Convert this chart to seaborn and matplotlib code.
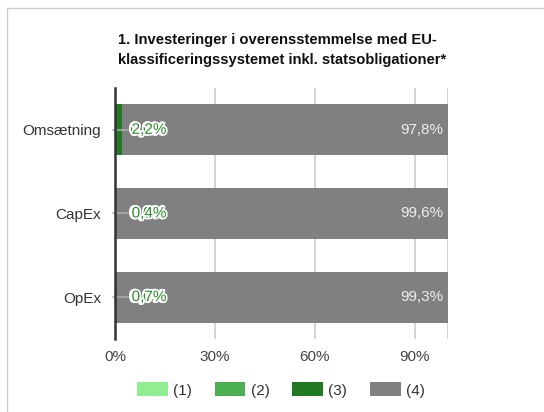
import numpy as np
import pandas as pd
import seaborn as sns
import matplotlib.pyplot as plt
from matplotlib.lines import Line2D
from matplotlib.patches import Patch
import matplotlib.patheffects as pe

# data
categories = ['Omsætning', 'CapEx', 'OpEx']
series_names = ['(1)', '(2)', '(3)', '(4)']
s1 = [0.0, 0.0, 0.0]
s2 = [0.0, 0.0, 0.0]
s3 = [2.2, 0.4, 0.7]
s4 = [97.8, 99.6, 99.3]
colors = ['#90ee90', '#4caf50', '#217a21', '#808080']
x_ticks = [0, 30, 60, 90]

title = '1. Investeringer i overensstemmelse med EU-\nklassificeringssystemet inkl. statsobligationer*'

sns.set_style('white')
plt.rcParams['font.family'] = ['Liberation Sans', 'DejaVu Sans']

df = pd.DataFrame({'cat': categories, '(1)': s1, '(2)': s2, '(3)': s3, '(4)': s4})
cum = df[series_names].cumsum(axis=1)

fig = plt.figure(figsize=(5.44, 4.12), dpi=100)
ax = fig.add_axes([115 / 544, 1 - 339 / 412, (448 - 115) / 544, 251 / 412])

# stacked bars: draw largest cumulative first
for name, col in reversed(list(zip(series_names, colors))):
    sns.barplot(x=cum[name], y=df['cat'], color=col, orient='h', width=0.61,
                saturation=1, ax=ax, zorder=2, linewidth=0)

ax.set_xlim(0, 100)
ax.set_ylim(2.5, -0.5)
ax.set_xticks(x_ticks)
ax.set_xticklabels([f'{t}%' for t in x_ticks], fontsize=11, color='#444444')
ax.tick_params(axis='y', labelsize=11, labelcolor='#333333', length=0, pad=10)
ax.tick_params(axis='x', length=0, pad=8)
ax.set_xlabel('')
ax.set_ylabel('')
for t in x_ticks[1:] + [100]:
    ax.axvline(t, color='#cccccc', lw=1.2, zorder=1)
for s in ['top', 'right', 'bottom']:
    ax.spines[s].set_visible(False)
ax.spines['left'].set_color('#333333')
ax.spines['left'].set_linewidth(1.8)
ax.spines['left'].set_zorder(5)

# labels
fmt = lambda v: f'{v:.1f}%'.replace('.', ',')
for i, cat in enumerate(categories):
    ax.text(cum['(4)'][i] - 1.5, i, fmt(s4[i]), ha='right', va='center',
            fontsize=11, color='#eeeeee', zorder=6)
    ax.plot([-0.6, 4.2], [i, i], color='#aaaaaa', lw=1.2, zorder=4, clip_on=False)
    for k, v in enumerate([s1[i], s2[i], s3[i]]):
        ax.text(4.6 + (0.4 if k == 2 else 0), i, fmt(v), ha='left', va='center',
                fontsize=11, color='#2e8b2e', zorder=6,
                path_effects=[pe.withStroke(linewidth=2.5, foreground='white')])

fig.text(282 / 544, 1 - 50 / 412, title, ha='center', va='center', multialignment='left',
         fontsize=10.6, fontweight='bold', color='#111111', linespacing=1.5)

handles = [Patch(facecolor=c, edgecolor='none') for c in colors]
fig.legend(handles, series_names, loc='center', bbox_to_anchor=(281 / 544, 1 - 390 / 412),
           ncol=4, frameon=False, fontsize=11, handlelength=2.0, handleheight=1.0,
           columnspacing=1.5, handletextpad=0.35, labelcolor='#333333')

# frame lines
fig.add_artist(Line2D([7 / 544, 1], [1 - 8 / 412, 1 - 8 / 412], color='#cccccc', lw=1))
fig.add_artist(Line2D([7 / 544, 7 / 544], [0, 1 - 8 / 412], color='#cccccc', lw=1))

fig.savefig('out.png', dpi=100)
